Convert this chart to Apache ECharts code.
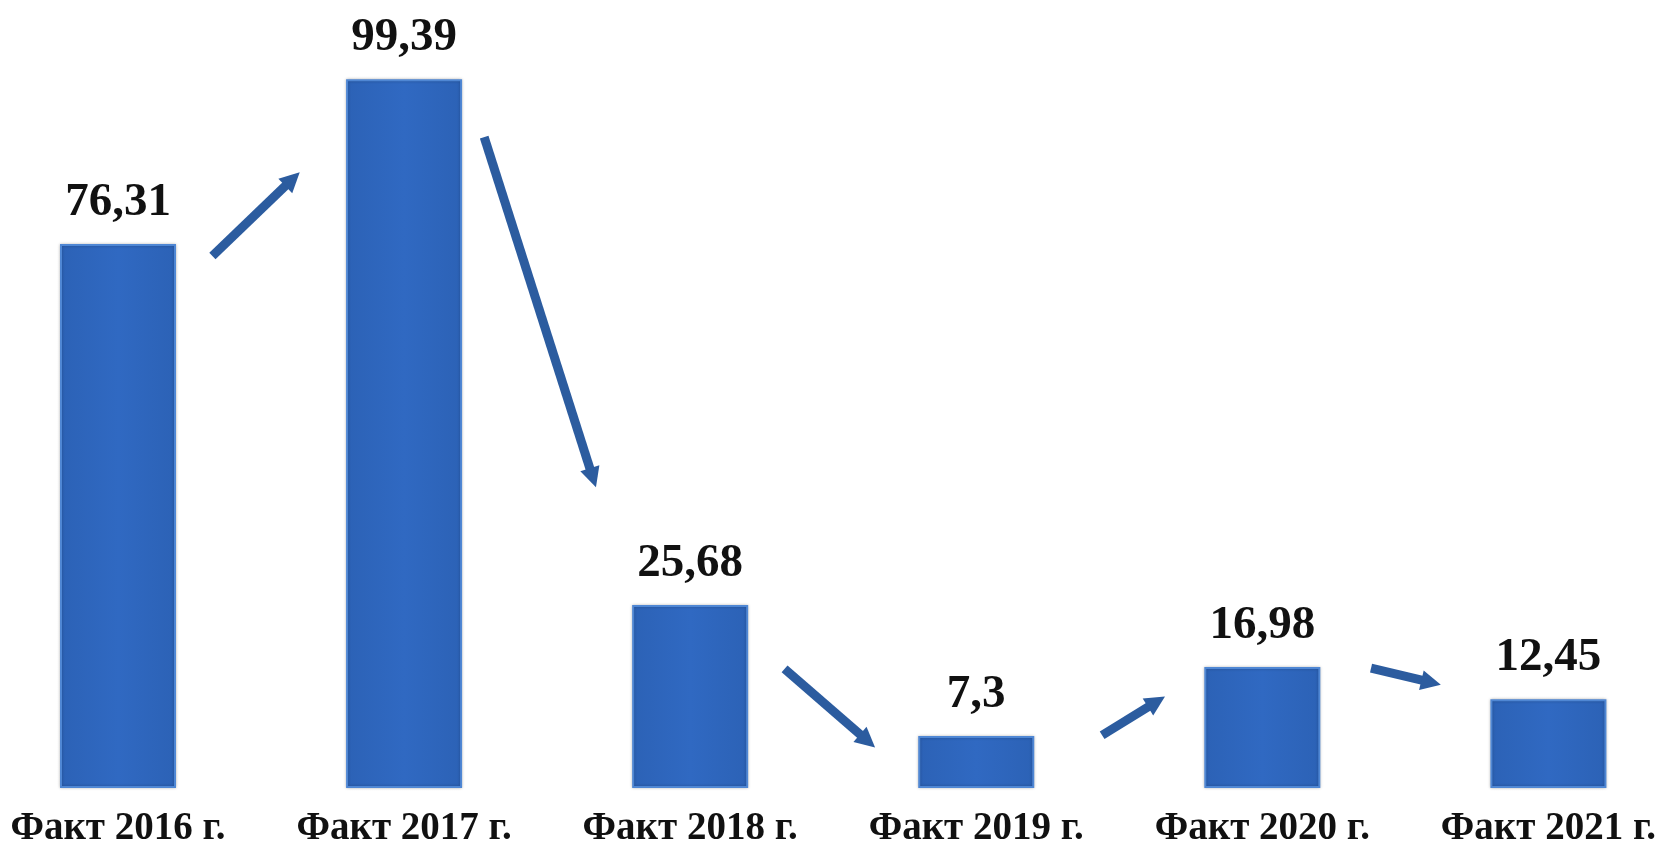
<!DOCTYPE html>
<html lang="ru">
  <head>
    <meta charset="UTF-8" />
    <title>Факт по годам</title>
    <style>
      html, body { margin: 0; padding: 0; background: #fff; }
      #chart { width: 1659px; height: 851px; }
    </style>
  </head>
  <body>
    <div id="chart"></div>
    <script src="https://cdn.jsdelivr.net/npm/echarts@6/dist/echarts.min.js"></script>
    <script>
      // категории и значения
      var years = ['Факт 2016 г.', 'Факт 2017 г.', 'Факт 2018 г.', 'Факт 2019 г.', 'Факт 2020 г.', 'Факт 2021 г.'];
      var values = [76.31, 99.39, 25.68, 7.3, 16.98, 12.45];

      // стрелки: [x, y] начала и конца (x – индекс категории, y – значение)
      var arrowFrom = [[0.33, 74.6], [1.28, 91.3], [2.33, 16.7], [3.44, 7.4], [4.38, 16.8]];
      var arrowTo = [[0.61, 85.4], [1.66, 43.5], [2.62, 6.6], [3.63, 12.1], [4.59, 14.8]];

      var arrows = arrowFrom.map(function (p, i) {
        return { coords: [p, arrowTo[i]] };
      });

      var myChart = echarts.init(document.getElementById('chart'));

      var option = {
        backgroundColor: '#ffffff',
        animation: false,
        grid: { left: 118, right: 108, top: 75, bottom: 63 },
        xAxis: [
          {
            type: 'category',
            data: years,
            boundaryGap: false,
            axisLine: { show: false },
            axisTick: { show: false },
            axisLabel: {
              margin: 21,
              fontFamily: 'Liberation Serif',
              fontWeight: 'bold',
              fontSize: 39,
              color: '#111'
            }
          },
          { type: 'value', min: 0, max: 5, show: false }
        ],
        yAxis: {
          type: 'value',
          min: 0,
          max: 100,
          show: false,
          splitLine: { show: false }
        },
        series: [
          {
            type: 'bar',
            data: values,
            barWidth: 116,
            clip: false,
            itemStyle: {
              color: new echarts.graphic.LinearGradient(0, 0, 1, 0, [
                { offset: 0, color: '#2c62b6' },
                { offset: 0.5, color: '#3069c2' },
                { offset: 1, color: '#2c62b6' }
              ]),
              borderColor: '#4f87d4',
              borderWidth: 2,
              shadowColor: 'rgba(0,0,0,0.25)',
              shadowBlur: 3
            },
            label: {
              show: true,
              position: 'top',
              distance: 18,
              fontFamily: 'Liberation Serif',
              fontWeight: 'bold',
              fontSize: 47,
              color: '#111',
              formatter: function (p) {
                return String(p.value).replace('.', ',');
              }
            }
          },
          {
            type: 'lines',
            coordinateSystem: 'cartesian2d',
            xAxisIndex: 1,
            polyline: false,
            symbol: ['none', 'triangle'],
            symbolSize: [26, 20],
            lineStyle: { color: '#2c5c9f', width: 9, opacity: 1, curveness: 0 },
            data: arrows
          }
        ]
      };

      myChart.setOption(option);
    </script>
  </body>
</html>
